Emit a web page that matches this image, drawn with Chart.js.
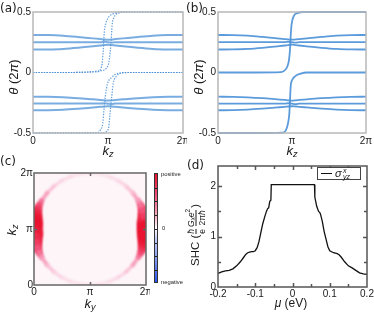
<!DOCTYPE html>
<html lang="en">
<head>
<meta charset="UTF-8">
<title>Wilson loop, SHC distribution and SHC</title>
<script src="https://cdn.jsdelivr.net/npm/chart.js"></script>
<style>
  html, body { margin: 0; padding: 0; background: #fff; }
  body { width: 374px; height: 312px; position: relative; overflow: hidden;
         font-family: "Liberation Sans", Arial, sans-serif; color: #1a1a1a; }
  canvas { position: absolute; }
  .panel { position: absolute; font-family: "DejaVu Sans", sans-serif; font-size: 12px; line-height: 1; }
  .ttl { position: absolute; font-size: 13px; line-height: 1; white-space: nowrap; transform: translate(-50%, -50%); }
  .rot { transform: translate(-50%, -50%) rotate(-90deg); }
  .ttl sub { font-size: 70%; line-height: 0; vertical-align: -0.3em; }
  .frac { display: inline-flex; flex-direction: column; align-items: center; vertical-align: middle;
          font-size: 8.5px; line-height: 1; margin: 0 1px; }
  .frac .den { border-top: 0.8px solid #1a1a1a; padding-top: 1px; }
  .frac sub, .frac sup { font-size: 75%; line-height: 0; }
  #cbar { position: absolute; left: 154px; top: 173px; width: 4px; height: 110px; box-sizing: border-box;
          border: 0.6px solid #333;
          background: linear-gradient(to bottom, #e8122f 0%, #f0527a 20%, #f7b3c9 40%, #ffffff 50%,
                                      #c4cdf7 60%, #7f95ef 80%, #2a55ee 100%); }
  #cbar span { position: absolute; left: 0; width: 100%; height: 0.8px; background: #222; }
  .cbl { position: absolute; font-size: 5.8px; line-height: 1; transform: translateY(-50%); }
  #legend { position: absolute; left: 317px; top: 167px; width: 44px; height: 13px; box-sizing: border-box;
            border: 1px solid #444; background: #fff; }
  #legend .sw { position: absolute; left: 3px; top: 5px; width: 11px; height: 1.4px; background: #111; }
  #legend .sig { position: absolute; left: 17px; top: 0px; font-size: 11px; font-style: italic; line-height: 11px; }
  #legend .ss { position: absolute; left: 25px; top: 0px; display: flex; flex-direction: column;
                font-size: 7px; font-style: italic; line-height: 6px; }
</style>
</head>
<body>
<canvas id="chartA" width="187" height="150" style="left:0;top:0"></canvas>
<canvas id="chartB" width="189" height="150" style="left:185px;top:0"></canvas>
<canvas id="chartC" width="150" height="162" style="left:0;top:150px"></canvas>
<canvas id="chartD" width="189" height="162" style="left:185px;top:150px"></canvas>

<div class="panel" style="left:0;top:2px">(a)</div>
<div class="panel" style="left:186px;top:2px">(b)</div>
<div class="panel" style="left:0;top:155px">(c)</div>
<div class="panel" style="left:187px;top:159px">(d)</div>

<div class="ttl rot" style="left:13px;top:77px"><i>θ</i> (2<i>π</i>)</div>
<div class="ttl rot" style="left:198px;top:77px"><i>θ</i> (2<i>π</i>)</div>
<div class="ttl" style="left:108px;top:150px"><i>k<sub>z</sub></i></div>
<div class="ttl" style="left:292px;top:150px"><i>k<sub>z</sub></i></div>
<div class="ttl rot" style="left:11px;top:230px"><i>k<sub>z</sub></i></div>
<div class="ttl" style="left:90px;top:303px"><i>k<sub>y</sub></i></div>
<div class="ttl" style="left:291px;top:303px;font-size:12px"><i>μ</i> (eV)</div>
<div class="ttl rot" style="left:196px;top:235px;font-size:11.5px">SHC (<span class="frac"><i>ħ</i><span class="den">e</span></span><span class="frac"><span><i>G<sub>x</sub>e</i><sup>2</sup></span><span class="den">2π<i>ħ</i></span></span>)</div>

<div id="cbar"><span style="top:13.7px"></span><span style="top:27.4px"></span><span style="top:41.1px"></span><span style="top:54.8px"></span><span style="top:68.5px"></span><span style="top:82.2px"></span><span style="top:95.9px"></span></div>
<div class="cbl" style="left:161px;top:175px">positive</div>
<div class="cbl" style="left:162px;top:229px">0</div>
<div class="cbl" style="left:161px;top:283px">negative</div>

<div id="legend"><span class="sw"></span><span class="sig">σ</span><span class="ss"><span>x</span><span>yz</span></span></div>

<script>
// ---- tick labels ----
const kzTicks = [0, 1, 2];                 // in units of pi
const kzLabels = ['0', 'π', '2π'];
const thetaTicks = [-0.5, 0, 0.5];
const thetaLabels = ['-0.5', '0', '0.5'];
const muTicks = [-0.2, -0.1, 0, 0.1, 0.2];
const muLabels = ['-0.2', '-0.1', '0', '0.1', '0.2'];
const shcTicks = [0, 1, 2];
const shcLabels = ['0', '1', '2'];

// ---- (a),(b) Wilson loop bands, kz in units of pi ----
const bandKz = [0, 0.2, 0.4, 0.6, 0.8, 0.9, 0.95, 1.0, 1.05, 1.1, 1.2, 1.4, 1.6, 1.8, 2.0];
const bandUp1 = [0.31, 0.309, 0.304, 0.294, 0.282, 0.276, 0.273, 0.271, 0.273, 0.276, 0.282, 0.294, 0.304, 0.309, 0.31];
const bandUp2 = [0.251, 0.251, 0.251, 0.251, 0.251, 0.251, 0.254, 0.25, 0.247, 0.251, 0.251, 0.251, 0.251, 0.251, 0.251];
const bandUp3 = [0.19, 0.191, 0.195, 0.204, 0.216, 0.223, 0.227, 0.23, 0.227, 0.223, 0.216, 0.204, 0.195, 0.191, 0.19];
const bandLo1 = [-0.2, -0.201, -0.205, -0.212, -0.222, -0.227, -0.23, -0.232, -0.23, -0.227, -0.222, -0.212, -0.205, -0.201, -0.2];
const bandLo2 = [-0.257, -0.257, -0.257, -0.257, -0.257, -0.257, -0.254, -0.258, -0.261, -0.257, -0.257, -0.257, -0.257, -0.257, -0.257];
const bandLo3 = [-0.312, -0.311, -0.307, -0.299, -0.289, -0.284, -0.281, -0.279, -0.281, -0.284, -0.289, -0.299, -0.307, -0.311, -0.312];

// (a) spectral-flow curves (doubled)
const aUp1Kz = [0, 0.5, 0.85, 0.915, 0.9375, 0.95, 0.973, 1.027, 1.094, 1.2, 1.5, 2.0];
const aUp1Th = [0, 0, 0.005, 0.05, 0.19, 0.33, 0.41, 0.47, 0.49, 0.5, 0.5, 0.5];
const aUp2Kz = [0, 0.5, 0.893, 0.98, 1.018, 1.04, 1.054, 1.08, 1.14, 1.25, 1.5, 2.0];
const aUp2Th = [0, 0, 0.014, 0.036, 0.106, 0.246, 0.385, 0.455, 0.49, 0.5, 0.5, 0.5];
const aLo1Kz = [0, 0.5, 0.85, 0.893, 0.93, 0.946, 0.964, 0.99, 1.05, 1.12, 1.25, 1.5, 2.0];
const aLo1Th = [-0.5, -0.5, -0.497, -0.48, -0.42, -0.31, -0.2, -0.1, -0.04, -0.01, 0, 0, 0];
const aLo2Kz = [0, 0.5, 0.915, 1.004, 1.027, 1.05, 1.07, 1.116, 1.18, 1.3, 1.5, 2.0];
const aLo2Th = [-0.5, -0.5, -0.5, -0.47, -0.34, -0.2, -0.09, -0.028, -0.005, 0, 0, 0];

// (b) spectral-flow curves
const bUpKz = [0, 0.5, 0.85, 0.893, 0.9375, 0.96, 0.973, 0.982, 0.995, 1.027, 1.07, 1.16, 1.5, 2.0];
const bUpTh = [0, 0, 0.003, 0.014, 0.05, 0.106, 0.19, 0.30, 0.40, 0.47, 0.49, 0.5, 0.5, 0.5];
const bLoKz = [0, 0.5, 0.87, 0.915, 0.946, 0.964, 0.973, 0.982, 1.004, 1.049, 1.116, 1.2, 1.5, 2.0];
const bLoTh = [-0.5, -0.5, -0.497, -0.48, -0.42, -0.34, -0.23, -0.117, -0.06, -0.028, -0.01, 0, 0, 0];

// ---- (c) SHC distribution: ring in the (ky, kz) plane, units of pi ----
const ringKy = [2.0, 1.996, 1.985, 1.966, 1.94, 1.906, 1.866, 1.766, 1.643, 1.5, 1.342, 1.174, 1.0,
                0.826, 0.658, 0.5, 0.357, 0.234, 0.134, 0.094, 0.06, 0.034, 0.015, 0.004, 0.0,
                0.004, 0.015, 0.034, 0.06, 0.094, 0.134, 0.234, 0.357, 0.5, 0.658, 0.826, 1.0,
                1.174, 1.342, 1.5, 1.643, 1.766, 1.866, 1.906, 1.94, 1.966, 1.985, 1.996, 2.0];
const ringKz = [1.0, 1.087, 1.174, 1.259, 1.342, 1.423, 1.5, 1.643, 1.766, 1.866, 1.94, 1.985, 2.0,
                1.985, 1.94, 1.866, 1.766, 1.643, 1.5, 1.423, 1.342, 1.259, 1.174, 1.087, 1.0,
                0.913, 0.826, 0.741, 0.658, 0.577, 0.5, 0.357, 0.234, 0.134, 0.06, 0.015, 0.0,
                0.015, 0.06, 0.134, 0.234, 0.357, 0.5, 0.577, 0.658, 0.741, 0.826, 0.913, 1.0];
const ringLevel = [1.0, 0.97, 0.9, 0.82, 0.7, 0.58, 0.46, 0.3, 0.2, 0.15, 0.12, 0.1, 0.1,
                   0.1, 0.12, 0.15, 0.2, 0.3, 0.46, 0.58, 0.7, 0.82, 0.9, 0.97, 1.0,
                   0.97, 0.9, 0.82, 0.7, 0.58, 0.46, 0.3, 0.2, 0.15, 0.12, 0.1, 0.1,
                   0.1, 0.12, 0.15, 0.2, 0.3, 0.46, 0.58, 0.7, 0.82, 0.9, 0.97, 1.0];

// ---- (d) spin Hall conductivity vs chemical potential ----
const muVals = [-0.2, -0.19, -0.18, -0.17, -0.16, -0.15, -0.14, -0.13, -0.125, -0.12, -0.115, -0.11, -0.105, -0.1,
                -0.095, -0.09, -0.085, -0.08, -0.075, -0.07, -0.067, -0.064, -0.061, -0.058, -0.057,
                0.057, 0.059, 0.06, 0.065, 0.07, 0.073, 0.075, 0.08, 0.085, 0.09, 0.095, 0.1, 0.105, 0.11,
                0.115, 0.12, 0.125, 0.13, 0.14, 0.15, 0.16, 0.17, 0.18, 0.19, 0.2];
const shcVals = [0.27, 0.3, 0.32, 0.33, 0.36, 0.42, 0.5, 0.6, 0.65, 0.68, 0.69, 0.7, 0.7, 0.72,
                 0.78, 0.9, 1.08, 1.25, 1.38, 1.5, 1.55, 1.57, 1.7, 1.72, 2.03,
                 2.03, 2.03, 1.78, 1.6, 1.5, 1.48, 1.45, 1.3, 1.1, 0.95, 0.8, 0.72, 0.7, 0.68,
                 0.67, 0.66, 0.64, 0.6, 0.5, 0.42, 0.38, 0.33, 0.28, 0.26, 0.25];

// ---------------------------------------------------------------
const FONT = { family: 'Liberation Sans, Arial, sans-serif', size: 10 };
const INK = '#1a1a1a';

function pts(xs, ys) { return xs.map((x, i) => ({ x: x, y: ys[i] })); }

function scales(o) {
    return {
        x: {
            type: 'linear', min: o.xMin, max: o.xMax, offset: false,
            afterBuildTicks: s => { s.ticks = o.xTicks.map(v => ({ value: v })); },
            afterFit: s => { s.height = o.xH; s.paddingLeft = 0; s.paddingRight = 0; },
            ticks: { font: FONT, color: INK, padding: o.xPad, maxRotation: 0, autoSkip: false,
                     callback: (v, i) => o.xLabels[i] },
            grid: { display: false, drawTicks: false }, border: { display: false }
        },
        y: {
            type: 'linear', min: o.yMin, max: o.yMax,
            afterBuildTicks: s => { s.ticks = o.yTicks.map(v => ({ value: v })); },
            afterFit: s => { s.width = o.yW; s.paddingTop = 0; s.paddingBottom = 0; },
            ticks: { font: FONT, color: INK, padding: o.yPad, autoSkip: false,
                     callback: (v, i) => o.yLabels[i] },
            grid: { display: false, drawTicks: false }, border: { display: false }
        }
    };
}

// frame box, background, inward ticks and optional blur of the data layer
const framePlugin = {
    id: 'frame',
    beforeDatasetsDraw(chart, args, opts) {
        if (!opts.fill) return;
        const a = chart.chartArea;
        chart.ctx.save();
        chart.ctx.fillStyle = opts.fill;
        chart.ctx.fillRect(a.left, a.top, a.width, a.height);
        chart.ctx.restore();
    },
    beforeDatasetDraw(chart, args, opts) {
        chart.ctx.save();
        if (opts.blur) chart.ctx.filter = 'blur(' + opts.blur + 'px)';
    },
    afterDatasetDraw(chart) {
        chart.ctx.restore();
    },
    afterDatasetsDraw(chart, args, opts) {
        const { ctx, chartArea: a, scales: { x, y } } = chart;
        ctx.save();
        ctx.strokeStyle = opts.color;
        ctx.lineWidth = opts.width;
        ctx.beginPath();
        (opts.xTicks || []).forEach(([v, len]) => {
            const px = Math.round(x.getPixelForValue(v)) + 0.5;
            ctx.moveTo(px, a.bottom); ctx.lineTo(px, a.bottom - len);
            ctx.moveTo(px, a.top); ctx.lineTo(px, a.top + len);
        });
        (opts.yTicks || []).forEach(([v, len]) => {
            const py = Math.round(y.getPixelForValue(v)) + 0.5;
            ctx.moveTo(a.left, py); ctx.lineTo(a.left + len, py);
            ctx.moveTo(a.right, py); ctx.lineTo(a.right - len, py);
        });
        ctx.stroke();
        ctx.strokeRect(a.left, a.top, a.width, a.height);
        ctx.restore();
    }
};

const base = {
    responsive: false, animation: false, events: [],
    plugins: { legend: { display: false }, tooltip: { enabled: false } },
    elements: { point: { radius: 0 } }
};

function lineSet(data, color, width, dash) {
    return { data: data, borderColor: color, borderWidth: width, borderDash: dash || [],
             pointRadius: 0, fill: false, tension: 0.4, cubicInterpolationMode: 'monotone', clip: 1 };
}

// ---------- (a) ----------
const bandColA = 'rgba(88,152,218,0.8)';
const flowColA = 'rgba(70,140,215,0.85)';
new Chart(document.getElementById('chartA'), {
    type: 'line',
    data: { datasets: [
        lineSet(pts(bandKz, bandUp1), bandColA, 2),
        lineSet(pts(bandKz, bandUp2), bandColA, 2),
        lineSet(pts(bandKz, bandUp3), bandColA, 2),
        lineSet(pts(bandKz, bandLo1), bandColA, 2),
        lineSet(pts(bandKz, bandLo2), bandColA, 2),
        lineSet(pts(bandKz, bandLo3), bandColA, 2),
        lineSet(pts(aUp1Kz, aUp1Th), flowColA, 1.2, [1.4, 1.3]),
        lineSet(pts(aUp2Kz, aUp2Th), flowColA, 1.2, [1.4, 1.3]),
        lineSet(pts(aLo1Kz, aLo1Th), flowColA, 1.2, [1.4, 1.3]),
        lineSet(pts(aLo2Kz, aLo2Th), flowColA, 1.2, [1.4, 1.3])
    ] },
    options: Object.assign({}, base, {
        layout: { padding: { left: 0, right: 4, top: 12, bottom: 0 } },
        scales: scales({ xMin: 0, xMax: 2, xTicks: kzTicks, xLabels: kzLabels, xH: 17, xPad: 2,
                         yMin: -0.5, yMax: 0.5, yTicks: thetaTicks, yLabels: thetaLabels, yW: 33, yPad: 2 }),
        plugins: Object.assign({}, base.plugins, { frame: { color: '#b8b8b8', width: 1.5 } })
    }),
    plugins: [framePlugin]
});

// ---------- (b) ----------
const colB = 'rgba(74,144,215,0.9)';
new Chart(document.getElementById('chartB'), {
    type: 'line',
    data: { datasets: [
        lineSet(pts(bandKz, bandUp1), colB, 1.8),
        lineSet(pts(bandKz, bandUp2), colB, 1.8),
        lineSet(pts(bandKz, bandUp3), colB, 1.8),
        lineSet(pts(bandKz, bandLo1), colB, 1.8),
        lineSet(pts(bandKz, bandLo2), colB, 1.8),
        lineSet(pts(bandKz, bandLo3), colB, 1.8),
        lineSet(pts(bUpKz, bUpTh), colB, 1.8),
        lineSet(pts(bLoKz, bLoTh), colB, 1.8)
    ] },
    options: Object.assign({}, base, {
        layout: { padding: { left: 0, right: 8, top: 12, bottom: 0 } },
        scales: scales({ xMin: 0, xMax: 2, xTicks: kzTicks, xLabels: kzLabels, xH: 17, xPad: 2,
                         yMin: -0.5, yMax: 0.5, yTicks: thetaTicks, yLabels: thetaLabels, yW: 33, yPad: 2 }),
        plugins: Object.assign({}, base.plugins, { frame: { color: '#b8b8b8', width: 1.5 } })
    }),
    plugins: [framePlugin]
});

// ---------- (c) ----------
const cmapStops = [[0, [253, 245, 248]], [0.15, [250, 216, 229]], [0.35, [247, 168, 196]],
                   [0.65, [242, 80, 120]], [1, [234, 16, 44]]];
function cmap(l) {
    l = Math.max(0, Math.min(1, l));
    for (let i = 1; i < cmapStops.length; i++) {
        const [t1, c1] = cmapStops[i], [t0, c0] = cmapStops[i - 1];
        if (l <= t1) {
            const f = (l - t0) / (t1 - t0);
            return 'rgb(' + c0.map((c, k) => Math.round(c + (c1[k] - c) * f)).join(',') + ')';
        }
    }
    return 'rgb(234,16,44)';
}
const segLevel = ctx => (ringLevel[ctx.p0DataIndex] + ringLevel[ctx.p1DataIndex]) / 2;
new Chart(document.getElementById('chartC'), {
    type: 'line',
    data: { datasets: [
        { data: pts(ringKy, ringKz), pointRadius: 0, fill: false, tension: 0, clip: 0,
          borderColor: cmap(0.1), borderWidth: 3, borderCapStyle: 'round', borderJoinStyle: 'round',
          segment: { borderColor: ctx => cmap(segLevel(ctx)),
                     borderWidth: ctx => 3 + 15 * Math.pow(segLevel(ctx), 3) } }
    ] },
    options: Object.assign({}, base, {
        layout: { padding: { left: 0, right: 4, top: 23, bottom: 0 } },
        scales: scales({ xMin: 0, xMax: 2, xTicks: kzTicks, xLabels: kzLabels, xH: 27, xPad: 1,
                         yMin: 0, yMax: 2, yTicks: kzTicks, yLabels: kzLabels, yW: 34, yPad: 1 }),
        plugins: Object.assign({}, base.plugins, {
            frame: { color: '#666', width: 1.5, fill: 'rgb(253,245,248)', blur: 1.3,
                     xTicks: [[1, 3]], yTicks: [[1, 3]] } })
    }),
    plugins: [framePlugin]
});

// ---------- (d) ----------
new Chart(document.getElementById('chartD'), {
    type: 'line',
    data: { datasets: [
        { data: pts(muVals, shcVals), borderColor: '#111', borderWidth: 1.3, pointRadius: 0,
          fill: false, tension: 0, clip: 1 }
    ] },
    options: Object.assign({}, base, {
        layout: { padding: { left: 0, right: 7, top: 16, bottom: 0 } },
        scales: scales({ xMin: -0.2, xMax: 0.2, xTicks: muTicks, xLabels: muLabels, xH: 25, xPad: 1,
                         yMin: 0, yMax: 2.4, yTicks: shcTicks, yLabels: shcLabels, yW: 33, yPad: 2 }),
        plugins: Object.assign({}, base.plugins, {
            frame: { color: '#555', width: 1.5,
                     xTicks: [[-0.15, 3], [-0.1, 4], [-0.05, 3], [0, 4], [0.05, 3], [0.1, 4], [0.15, 3]],
                     yTicks: [[0.5, 3], [1, 4], [1.5, 3], [2, 4]] } })
    }),
    plugins: [framePlugin]
});
</script>
</body>
</html>
